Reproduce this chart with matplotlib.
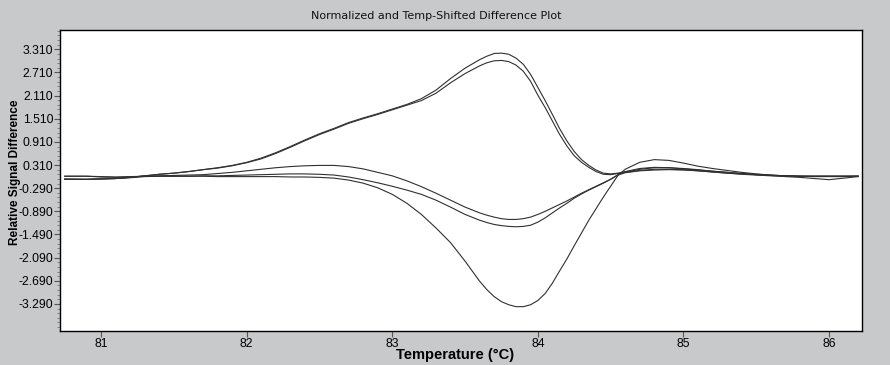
import matplotlib
matplotlib.use("Agg")
import matplotlib.pyplot as plt
from matplotlib.ticker import AutoMinorLocator

# temperature grid (deg C)
temps = [80.75, 80.9, 81.0, 81.1, 81.2, 81.3, 81.4, 81.5, 81.6, 81.7,
         81.8, 81.9, 82.0, 82.1, 82.2, 82.3, 82.4, 82.5, 82.6, 82.7,
         82.8, 82.9, 83.0, 83.1, 83.2, 83.3, 83.4, 83.5, 83.6, 83.65,
         83.7, 83.75, 83.8, 83.85, 83.9, 83.95, 84.0, 84.05, 84.1, 84.15,
         84.2, 84.25, 84.3, 84.35, 84.4, 84.45, 84.5, 84.55, 84.6, 84.7,
         84.8, 84.9, 85.0, 85.1, 85.2, 85.3, 85.4, 85.5, 85.6, 85.7,
         85.8, 85.9, 86.0, 86.1, 86.2]

# upper pair
curve_a = [-0.06, -0.06, -0.05, -0.04, -0.01, 0.03, 0.07, 0.10, 0.14, 0.19,
           0.24, 0.30, 0.38, 0.49, 0.63, 0.79, 0.96, 1.12, 1.26, 1.41,
           1.53, 1.64, 1.76, 1.88, 2.03, 2.25, 2.55, 2.82, 3.04, 3.13,
           3.20, 3.21, 3.18, 3.08, 2.92, 2.66, 2.32, 1.98, 1.62, 1.25,
           0.93, 0.66, 0.45, 0.30, 0.18, 0.10, 0.08, 0.10, 0.14, 0.22,
           0.25, 0.24, 0.21, 0.18, 0.15, 0.12, 0.09, 0.07, 0.05, 0.03,
           0.02, 0.01, 0.01, 0.01, 0.02]
curve_b = [-0.06, -0.06, -0.05, -0.04, -0.01, 0.03, 0.07, 0.10, 0.14, 0.19,
           0.23, 0.29, 0.37, 0.47, 0.61, 0.77, 0.94, 1.10, 1.24, 1.39,
           1.51, 1.62, 1.74, 1.86, 1.98, 2.17, 2.44, 2.68, 2.88, 2.96,
           3.01, 3.02, 2.99, 2.90, 2.74, 2.48, 2.12, 1.80, 1.45, 1.10,
           0.80, 0.55, 0.38, 0.25, 0.14, 0.07, 0.06, 0.09, 0.12, 0.17,
           0.20, 0.20, 0.19, 0.16, 0.13, 0.10, 0.08, 0.06, 0.04, 0.03,
           0.02, 0.02, 0.02, 0.02, 0.02]
# deep negative
curve_c = [0.02, 0.02, 0.00, -0.01, 0.00, 0.02, 0.02, 0.02, 0.02, 0.02,
           0.01, 0.01, 0.01, 0.01, 0.01, 0.00, 0.00, -0.01, -0.03, -0.08,
           -0.16, -0.28, -0.45, -0.68, -0.97, -1.32, -1.70, -2.18, -2.70, -2.92,
           -3.10, -3.23, -3.31, -3.36, -3.36, -3.31, -3.20, -3.02, -2.75, -2.43,
           -2.12, -1.78, -1.45, -1.12, -0.82, -0.52, -0.24, 0.04, 0.20, 0.38,
           0.45, 0.43, 0.36, 0.28, 0.22, 0.17, 0.12, 0.08, 0.05, 0.03,
           0.02, 0.02, 0.02, 0.02, 0.02]
# middle pair
curve_d = [0.02, 0.02, 0.01, 0.00, 0.01, 0.02, 0.03, 0.04, 0.05, 0.06,
           0.09, 0.12, 0.16, 0.20, 0.24, 0.27, 0.29, 0.30, 0.30, 0.27,
           0.21, 0.12, 0.03, -0.10, -0.25, -0.42, -0.60, -0.78, -0.93, -0.99,
           -1.04, -1.08, -1.10, -1.10, -1.08, -1.04, -0.97, -0.89, -0.80, -0.71,
           -0.62, -0.52, -0.42, -0.33, -0.24, -0.15, -0.06, 0.06, 0.13, 0.20,
           0.24, 0.24, 0.22, 0.19, 0.15, 0.12, 0.09, 0.06, 0.04, 0.03,
           0.02, 0.02, 0.02, 0.02, 0.02]
curve_e = [-0.05, -0.06, -0.05, -0.04, -0.02, 0.01, 0.02, 0.02, 0.02, 0.03,
           0.03, 0.04, 0.05, 0.06, 0.07, 0.08, 0.08, 0.07, 0.05, 0.00,
           -0.07, -0.15, -0.24, -0.34, -0.45, -0.60, -0.78, -0.97, -1.12, -1.18,
           -1.23, -1.26, -1.28, -1.29, -1.28, -1.25, -1.17, -1.06, -0.93, -0.80,
           -0.68, -0.55, -0.44, -0.34, -0.25, -0.16, -0.06, 0.05, 0.11, 0.16,
           0.18, 0.19, 0.18, 0.16, 0.13, 0.10, 0.07, 0.05, 0.03, 0.01,
           -0.01, -0.04, -0.07, -0.03, 0.01]

x_ticks = [81, 82, 83, 84, 85, 86]
y_ticks = [-3.29, -2.69, -2.09, -1.49, -0.89, -0.29, 0.31, 0.91, 1.51, 2.11, 2.71, 3.31]

bg = "#c8c9ca"
fig = plt.figure(figsize=(8.9, 3.65), dpi=100, facecolor=bg)
ax = fig.add_axes([0.0678, 0.0932, 0.9013, 0.8237])

for vals in [curve_a, curve_b, curve_c, curve_d, curve_e]:
    ax.plot(temps, vals, color="#303030", lw=0.8)

ax.set_xlim(80.72, 86.23)
ax.set_ylim(-3.99, 3.80)
ax.set_xticks(x_ticks)
ax.set_xticklabels([str(t) for t in x_ticks])
ax.set_yticks(y_ticks)
ax.set_yticklabels(["%.3f" % v for v in y_ticks])
ax.yaxis.set_minor_locator(AutoMinorLocator(5))

for lab in ax.get_xticklabels() + ax.get_yticklabels():
    lab.set_fontfamily("Liberation Sans")
    lab.set_fontsize(8.8)
ax.tick_params(which="major", direction="out", length=4, width=0.8, color="#555555", pad=1)
ax.tick_params(which="minor", direction="out", length=2, width=0.6, color="#777777")
for sp in ax.spines.values():
    sp.set_linewidth(1.0)
    sp.set_color("black")

fig.text(0.49, 1 - 16 / 365, "Normalized and Temp-Shifted Difference Plot",
         ha="center", va="center", fontsize=8, family="DejaVu Sans", color="#111111")
fig.text(0.511, 1 - 355 / 365, "Temperature (\u00b0C)", ha="center", va="center",
         fontsize=10.5, fontweight="bold", family="Liberation Sans")
fig.text(15 / 890, 1 - 172 / 365, "Relative Signal Difference", ha="center", va="center",
         rotation=90, fontsize=8.5, fontweight="bold", family="Liberation Sans")

fig.savefig("out.png", dpi=100, facecolor=bg)
